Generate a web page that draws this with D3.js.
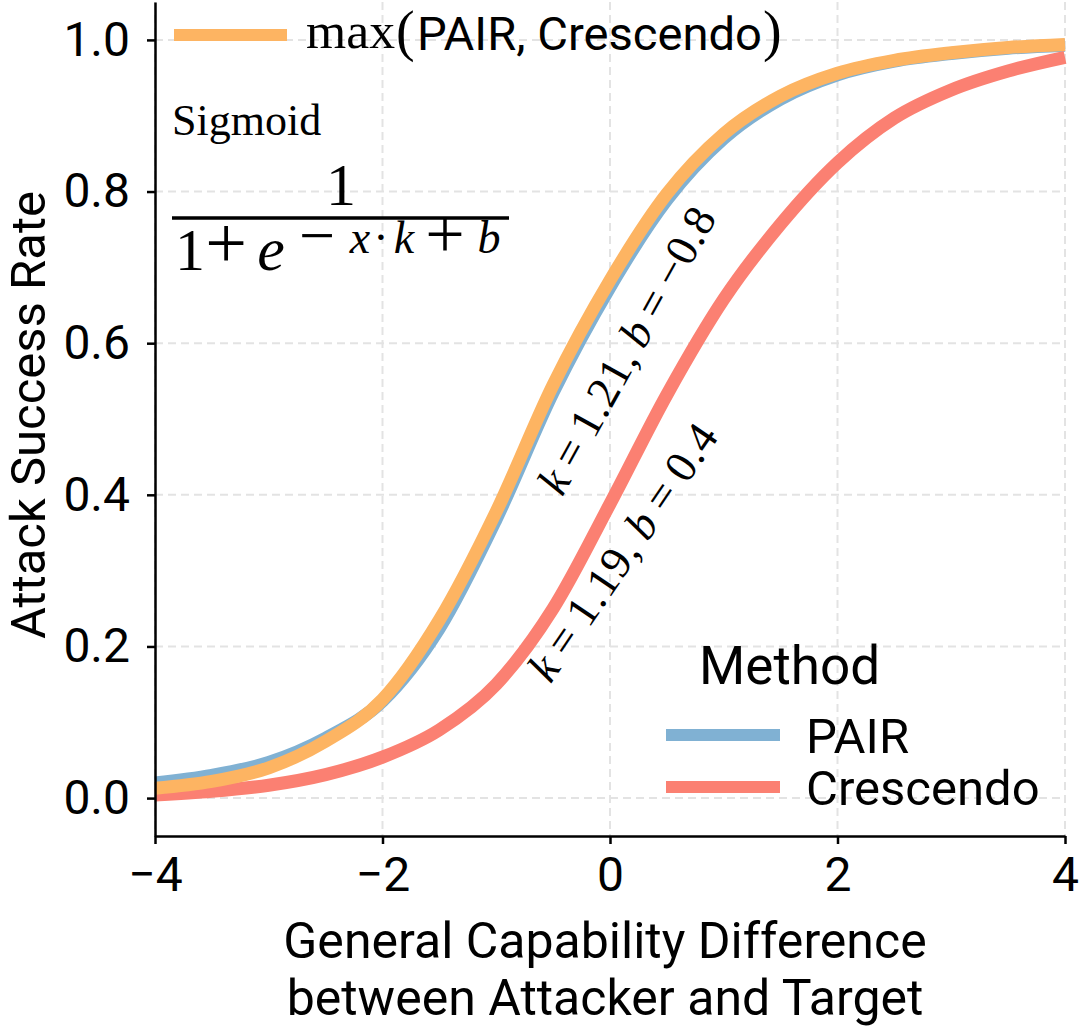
<!DOCTYPE html>
<html>
<head>
<meta charset="utf-8">
<script src="https://cdn.jsdelivr.net/npm/d3@7"></script>
<style>
  body { margin: 0; background: #fff; }
  svg { display: block; font-family: Roboto, sans-serif; }
</style>
</head>
<body>
<svg id="chart" width="1080" height="1026"></svg>
<script>
// values
const xValues = [-4, -3.5, -3, -2.5, -2, -1.5, -1, -0.5, 0, 0.5, 1, 1.5, 2, 2.5, 3, 3.5, 4];
const pairRate = [0.020, 0.030, 0.047, 0.079, 0.128, 0.224, 0.368, 0.535, 0.674, 0.789, 0.870, 0.922, 0.954, 0.972, 0.982, 0.989, 0.993];
const crescendoRate = [0.004, 0.009, 0.017, 0.031, 0.054, 0.090, 0.150, 0.250, 0.388, 0.532, 0.658, 0.757, 0.838, 0.897, 0.934, 0.959, 0.977];
const maxRate = [0.013, 0.022, 0.040, 0.075, 0.130, 0.235, 0.378, 0.545, 0.683, 0.797, 0.876, 0.926, 0.956, 0.973, 0.983, 0.990, 0.994];
const xTicks = [-4, -2, 0, 2, 4];
const yTicks = [0, 0.2, 0.4, 0.6, 0.8, 1.0];

const colors = { pair: '#80b1d3', crescendo: '#fb8072', max: '#fdb462' };

const svg = d3.select('#chart');
const plotLeft = 155, plotRight = 1065, plotTop = 2, plotBottom = 836;

const x = d3.scaleLinear().domain([-4, 4]).range([plotLeft, plotRight]);
const y = d3.scaleLinear().domain([-0.05, 1.05]).range([plotBottom, plotTop]);

// grid
const grid = svg.append('g')
  .attr('stroke', '#e3e3e3')
  .attr('stroke-width', 2)
  .attr('stroke-dasharray', '8,5');

grid.selectAll('.gx')
  .data(xTicks)
  .join('line')
    .attr('x1', d => x(d)).attr('x2', d => x(d))
    .attr('y1', plotTop).attr('y2', plotBottom);

grid.selectAll('.gy')
  .data(yTicks)
  .join('line')
    .attr('x1', plotLeft).attr('x2', plotRight)
    .attr('y1', d => y(d)).attr('y2', d => y(d));

// curves
const line = d3.line()
  .x((d, i) => x(xValues[i]))
  .y(d => y(d))
  .curve(d3.curveMonotoneX);

[[pairRate, colors.pair], [crescendoRate, colors.crescendo], [maxRate, colors.max]]
  .forEach(([vals, col]) => {
    svg.append('path')
      .attr('d', line(vals))
      .attr('fill', 'none')
      .attr('stroke', col)
      .attr('stroke-width', 13);
  });

// axes
const xAxis = svg.append('g')
  .attr('transform', `translate(0,${plotBottom})`)
  .call(d3.axisBottom(x).tickValues(xTicks).tickSize(8).tickSizeOuter(0).tickPadding(13));

const yAxis = svg.append('g')
  .attr('transform', `translate(${plotLeft},0)`)
  .call(d3.axisLeft(y).tickValues(yTicks).tickFormat(d3.format('.1f')).tickSize(8).tickSizeOuter(0).tickPadding(17));

[xAxis, yAxis].forEach(a => {
  a.select('.domain').attr('stroke', '#000').attr('stroke-width', 2.5);
  a.selectAll('.tick line').attr('stroke', '#000').attr('stroke-width', 2.5);
  a.selectAll('.tick text')
    .attr('font-family', 'Roboto, sans-serif')
    .attr('font-size', 48)
    .attr('fill', '#000');
});

// axis titles
svg.append('text')
  .attr('x', 605).attr('y', 958)
  .attr('text-anchor', 'middle')
  .attr('font-size', 50)
  .text('General Capability Difference');

svg.append('text')
  .attr('x', 605).attr('y', 1015)
  .attr('text-anchor', 'middle')
  .attr('font-size', 50)
  .text('between Attacker and Target');

svg.append('text')
  .attr('transform', 'translate(45,415) rotate(-90)')
  .attr('text-anchor', 'middle')
  .attr('font-size', 49)
  .text('Attack Success Rate');

// top legend entry
svg.append('line')
  .attr('x1', 174).attr('x2', 287)
  .attr('y1', 35).attr('y2', 35)
  .attr('stroke', colors.max)
  .attr('stroke-width', 12);

const serif = 'Liberation Serif, DejaVu Serif, serif';

svg.append('text')
  .attr('x', 306).attr('y', 48)
  .attr('font-family', serif)
  .attr('font-size', 50)
  .attr('textLength', 89)
  .attr('lengthAdjust', 'spacingAndGlyphs')
  .text('max');

svg.append('text')
  .attr('x', 396).attr('y', 50)
  .attr('font-family', serif)
  .attr('font-size', 56)
  .text('(');

svg.append('text')
  .attr('x', 417).attr('y', 50)
  .attr('font-size', 47)
  .attr('textLength', 345)
  .attr('lengthAdjust', 'spacingAndGlyphs')
  .text('PAIR, Crescendo');

svg.append('text')
  .attr('x', 763).attr('y', 50)
  .attr('font-family', serif)
  .attr('font-size', 56)
  .text(')');

// formula block
svg.append('text')
  .attr('x', 172).attr('y', 135)
  .attr('font-family', serif)
  .attr('font-size', 44)
  .text('Sigmoid');

svg.append('text')
  .attr('x', 341).attr('y', 205)
  .attr('text-anchor', 'middle')
  .attr('font-family', serif)
  .attr('font-size', 60)
  .text('1');

svg.append('line')
  .attr('x1', 172).attr('x2', 509)
  .attr('y1', 218).attr('y2', 218)
  .attr('stroke', '#000')
  .attr('stroke-width', 3.5);

const denom = [
  { t: '1', cx: 190, it: false, size: 60, base: 270 },
  { t: '+', cx: 226, it: false, size: 74, base: 268 },
  { t: 'e', cx: 271, it: true, size: 62, base: 270 },
  { t: '\u2212', cx: 317, it: false, size: 64, base: 257 },
  { t: 'x', cx: 360, it: true, size: 46, base: 253 },
  { t: '\u00b7', cx: 381, it: false, size: 46, base: 253 },
  { t: 'k', cx: 404, it: true, size: 46, base: 253 },
  { t: '+', cx: 445, it: false, size: 70, base: 258 },
  { t: 'b', cx: 489, it: true, size: 46, base: 253 }
];

svg.append('g')
  .selectAll('text')
  .data(denom)
  .join('text')
    .attr('x', d => d.cx).attr('y', d => d.base)
    .attr('text-anchor', 'middle')
    .attr('font-family', serif)
    .attr('font-style', d => d.it ? 'italic' : 'normal')
    .attr('font-size', d => d.size)
    .text(d => d.t);

// rotated fit annotations
function fitLabel(cx, cy, angle, len, kVal, bVal) {
  const t = svg.append('text')
    .attr('transform', `translate(${cx},${cy}) rotate(${angle})`)
    .attr('text-anchor', 'middle')
    .attr('dy', '0.3em')
    .attr('font-family', serif)
    .attr('font-size', 45)
    .attr('textLength', len)
    .attr('lengthAdjust', 'spacing');
  t.append('tspan').attr('font-style', 'italic').text('k');
  t.append('tspan').text(`\u2009=\u2009${kVal},\u2009`);
  t.append('tspan').attr('font-style', 'italic').text('b');
  t.append('tspan').text(`\u2009=\u2009${bVal}`);
}

fitLabel(628, 351, -61, 320, '1.21', '\u22120.8');
fitLabel(624, 553, -55.7, 300, '1.19', '0.4');

// method legend
svg.append('text')
  .attr('x', 699).attr('y', 684)
  .attr('font-size', 53)
  .text('Method');

const legendItems = [
  { name: 'PAIR', color: colors.pair, y: 735 },
  { name: 'Crescendo', color: colors.crescendo, y: 787 }
];

const lg = svg.append('g')
  .selectAll('g')
  .data(legendItems)
  .join('g');

lg.append('line')
  .attr('x1', 666).attr('x2', 780)
  .attr('y1', d => d.y).attr('y2', d => d.y)
  .attr('stroke', d => d.color)
  .attr('stroke-width', 12);

lg.append('text')
  .attr('x', 806).attr('y', d => d.y + 18)
  .attr('font-size', 49)
  .text(d => d.name);
</script>
</body>
</html>
